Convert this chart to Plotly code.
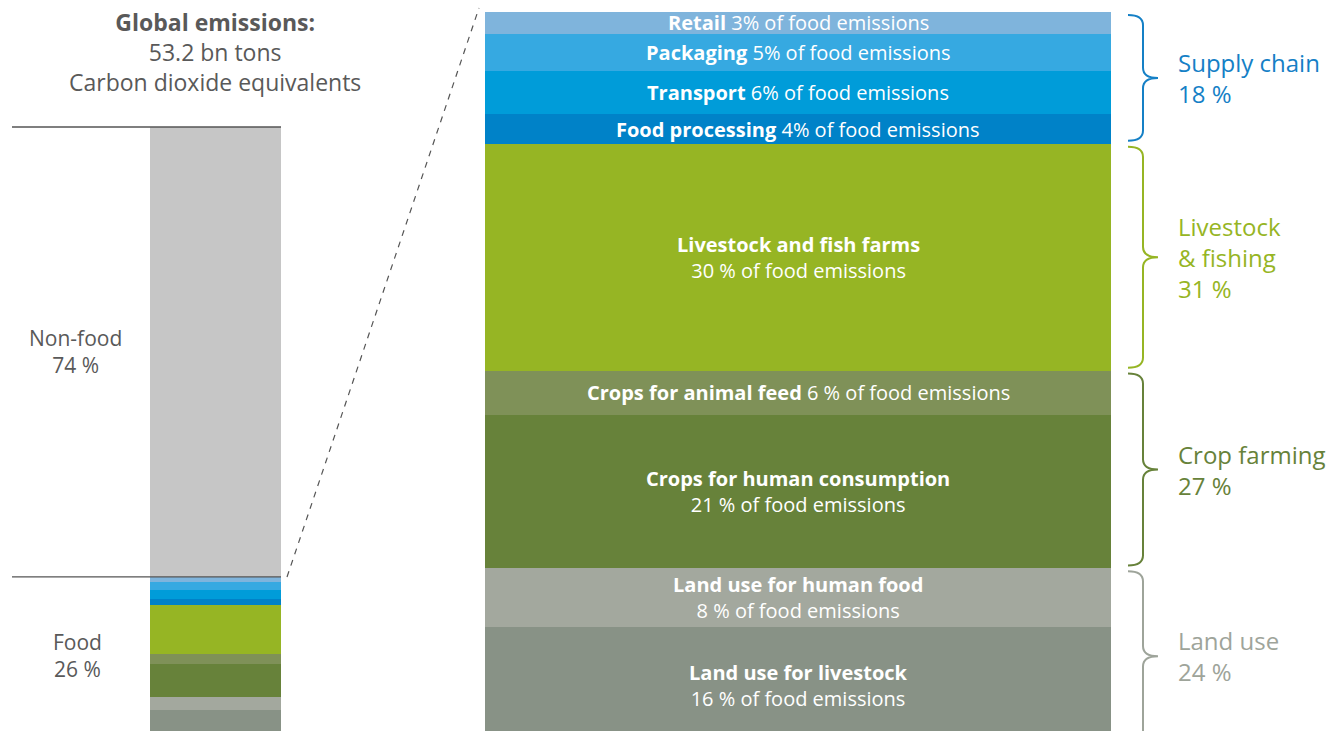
import plotly.graph_objects as go

W, H = 1343, 731

# food emission components, bottom to top (share of food emissions, %)
categories = ["Land use for livestock", "Land use for human food", "Crops for human consumption",
              "Crops for animal feed", "Livestock and fish farms", "Food processing",
              "Transport", "Packaging", "Retail"]
shares = [16, 8, 21, 6, 31, 4, 6, 5, 3]
share_labels = ["16 %", "8 %", "21 %", "6 %", "30 %", "4%", "6%", "5%", "3%"]
two_lines = [True, True, True, False, True, False, False, False, False]
colors = ["#889286", "#a3a89e", "#67823a", "#7f9158", "#96b524",
          "#0082c8", "#009cd9", "#36a9e1", "#7fb4dc"]

# brackets on the right
groups = ["Land use", "Crop farming", "Livestock<br>& fishing", "Supply chain"]
group_pct = [24, 27, 31, 18]
group_size = [2, 2, 1, 4]
group_colors = ["#9ea49a", "#67823a", "#96b524", "#1580c6"]

total_emissions = 53.2
food_pct = 26
nonfood_pct = 74

grey_txt = "#595959"
font = "Open Sans"

fig = go.Figure()

# left bar: global emissions
for cat, s, c in zip(categories, shares, colors):
    fig.add_trace(go.Bar(x=["global"], y=[food_pct * s / 100], marker=dict(color=c, line_width=0),
                         name=cat, xaxis="x", yaxis="y", hoverinfo="skip"))
fig.add_trace(go.Bar(x=["global"], y=[nonfood_pct], marker=dict(color="#c6c6c6", line_width=0),
                     name="Non-food", xaxis="x", yaxis="y", hoverinfo="skip"))

# right bar: food emissions
for cat, s, c in zip(categories, shares, colors):
    fig.add_trace(go.Bar(x=["food"], y=[s], marker=dict(color=c, line_width=0),
                         name=cat, xaxis="x2", yaxis="y2", hoverinfo="skip"))

annotations = []
shapes = []

# labels inside the right bar
base = 0
for cat, s, lab, two in zip(categories, shares, share_labels, two_lines):
    mid = base + s / 2
    if two:
        txt = f"<b>{cat}</b><br>{lab} of food emissions"
    else:
        txt = f"<b>{cat}</b> {lab} of food emissions"
    annotations.append(dict(x=0.5, y=mid, xref="x2 domain", yref="y2", text=txt, showarrow=False,
                            xanchor="center", yanchor="middle",
                            font=dict(family=font, size=20, color="white"), align="center"))
    base += s

# curly brackets + group labels
def brace(ytop, ybot, x0, x1, x2, r):
    ym = (ytop + ybot) / 2
    return (f"M{x0},{ytop} Q{x1},{ytop} {x1},{ytop - r} L{x1},{ym + r} Q{x1},{ym} {x2},{ym} "
            f"Q{x1},{ym} {x1},{ym - r} L{x1},{ybot + r} Q{x1},{ybot} {x0},{ybot}")

bx0, bx1, bx2 = 1128 / W, 1143 / W, 1158 / W
start = 0
idx = 0
for g, p, n, c in zip(groups, group_pct, group_size, group_colors):
    span = sum(shares[idx:idx + n])
    ybot, ytop = start + 0.4, start + span - 0.4
    shapes.append(dict(type="path", xref="paper", yref="y2", path=brace(ytop, ybot, bx0, bx1, bx2, 1.4),
                       line=dict(color=c, width=2)))
    annotations.append(dict(x=1176 / W, y=start + span / 2, xref="paper", yref="y2",
                            xanchor="left", yanchor="middle",
                            text=f"{g}<br>{p} %", showarrow=False, align="left",
                            font=dict(family=font, size=24, color=c)))
    start += span
    idx += n

# left side texts
annotations.append(dict(x=215 / W, y=(H - 52) / H, xref="paper", yref="paper", showarrow=False,
                        xanchor="center", yanchor="middle",
                        text=f"<b>Global emissions:</b><br>{total_emissions} bn tons<br>Carbon dioxide equivalents",
                        font=dict(family=font, size=23, color=grey_txt), align="center"))
annotations.append(dict(x=75 / W, y=food_pct + nonfood_pct / 2, xref="paper", yref="y", showarrow=False,
                        xanchor="center", yanchor="middle",
                        text=f"Non-food<br>{nonfood_pct} %", align="center",
                        font=dict(family=font, size=21, color=grey_txt)))
annotations.append(dict(x=77 / W, y=food_pct / 2, xref="paper", yref="y", showarrow=False,
                        xanchor="center", yanchor="middle",
                        text=f"Food<br>{food_pct} %", align="center",
                        font=dict(family=font, size=21, color=grey_txt)))

# horizontal rules on the left bar
for yv in [food_pct + nonfood_pct, food_pct]:
    shapes.append(dict(type="line", xref="paper", yref="y", x0=12 / W, x1=281 / W, y0=yv, y1=yv,
                       line=dict(color="#555555", width=1.3)))

# dashed connector
shapes.append(dict(type="line", xref="paper", yref="paper", x0=287 / W, y0=(H - 577) / H,
                   x1=479 / W, y1=(H - 8) / H, line=dict(color="#555555", width=1.2, dash="6px,6px")))

fig.update_layout(
    width=W, height=H,
    margin=dict(l=0, r=0, t=0, b=0),
    barmode="stack", bargap=0,
    showlegend=False,
    paper_bgcolor="white", plot_bgcolor="white",
    xaxis=dict(domain=[150 / W, 281 / W], visible=False, fixedrange=True),
    yaxis=dict(domain=[0, 1], range=[100 - (H - 127) / 6.08, 100 + 127 / 6.08], visible=False),
    xaxis2=dict(domain=[485 / W, 1111 / W], visible=False, anchor="y2"),
    yaxis2=dict(domain=[0, 1], range=[100 - (H - 12) / 7.32, 100 + 12 / 7.32], visible=False, anchor="x2"),
    annotations=annotations,
    shapes=shapes,
)

# page body has a default 8px margin; drop it so the figure sits at the window origin
fig.write_html("out.html", config={"displayModeBar": False},
               post_script="document.body.style.margin='0px';")
